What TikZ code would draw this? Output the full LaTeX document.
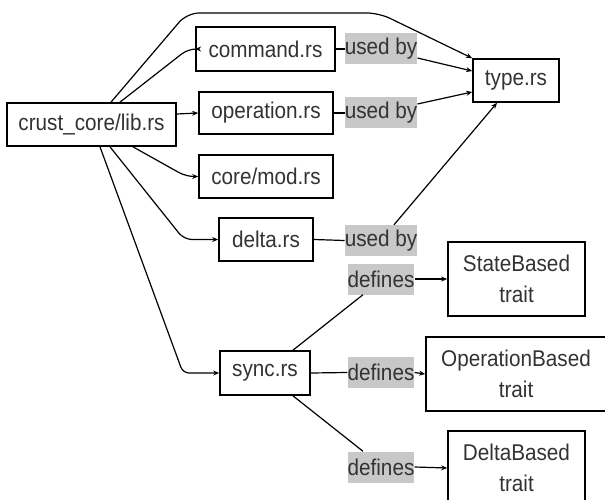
\documentclass[tikz,border=0pt]{standalone}
\usepackage{fontspec}
\setmainfont{Liberation Sans}
\usetikzlibrary{arrows.meta}
\definecolor{txt}{HTML}{333333}
\definecolor{tag}{HTML}{C8C8C8}
% slightly tall lettering
\newcommand{\tall}[1]{\scalebox{1}[1.1]{#1}}
\tikzset{
  filebox/.style={draw=black, line width=1.7pt, fill=white, text=txt, inner sep=0pt,
    font=\fontsize{20.7}{31}\selectfont, align=center},
  tagbox/.style={fill=tag, text=txt, inner xsep=0pt, inner ysep=0pt,
    minimum height=31pt, font=\fontsize{20.7}{31}\selectfont},
  link/.style={draw=black, line width=1.2pt},
  arr/.style={link, -{Stealth[length=6pt,width=5pt]}},
}
\begin{document}
\begin{tikzpicture}[x=1pt,y=-1pt]
\useasboundingbox (0,0) rectangle (605,500);
\fill[white] (0,0) rectangle (605,500);

% files
\node[filebox, minimum width=169pt, minimum height=43pt] (lib) at (91.5,124.5) {\tall{crust\_core/lib.rs}};
\node[filebox, minimum width=139pt, minimum height=44pt] (cmd) at (265.5,49) {\tall{command.rs}};
\node[filebox, minimum width=134pt, minimum height=42pt] (op) at (266,113) {\tall{operation.rs}};
\node[filebox, minimum width=134pt, minimum height=43pt] (core) at (266,176.5) {\tall{core/mod.rs}};
\node[filebox, minimum width=94pt, minimum height=43pt] (delta) at (266,239.5) {\tall{delta.rs}};
\node[filebox, minimum width=90pt, minimum height=44pt] (sync) at (265,373) {\tall{sync.rs}};
\node[filebox, minimum width=86pt, minimum height=43pt] (type) at (516,80.5) {\tall{type.rs}};

% traits
\node[filebox, minimum width=137pt, minimum height=74pt] (state) at (516.5,279) {\tall{StateBased}\\\tall{trait}};
\node[filebox, minimum width=180pt, minimum height=74pt] (opb) at (516,374) {\tall{OperationBased}\\\tall{trait}};
\node[filebox, minimum width=137pt, minimum height=74pt] (deltab) at (516.5,468) {\tall{DeltaBased}\\\tall{trait}};

% relation tags
\node[tagbox] (u1) at (381,49) {\tall{used by}};
\node[tagbox] (u2) at (381,113) {\tall{used by}};
\node[tagbox] (u3) at (381,240.5) {\tall{used by}};
\node[tagbox] (d1) at (381,279) {\tall{defines}};
\node[tagbox] (d2) at (381,372.5) {\tall{defines}};
\node[tagbox] (d3) at (381,467) {\tall{defines}};

% lib.rs declares the modules
\draw[arr, rounded corners=12pt] ([xshift=19.5pt]lib.north) -- (187,13) -- (379,13) -- (type.north west);
\draw[arr, rounded corners=8pt] ([xshift=28.5pt]lib.north) -- (188,49) -- (cmd.west);
\draw[arr] ([yshift=10.5pt]lib.east) -- (op.west);
\draw[arr, rounded corners=8pt] ([xshift=41.5pt]lib.south) -- (186,176.5) -- (core.west);
\draw[arr, rounded corners=8pt] ([xshift=18.5pt]lib.south) -- (184,239.5) -- (delta.west);
\draw[arr, rounded corners=6pt] ([xshift=8.5pt]lib.south) -- (183,373) -- (sync.west);

% uses of type.rs
\draw[link] (cmd.east) -- (u1.west);
\draw[arr] ([yshift=-9pt]u1.east) -- ([yshift=9.5pt]type.west);
\draw[link] (op.east) -- (u2.west);
\draw[arr] ([yshift=9pt]u2.east) -- ([yshift=-11.5pt]type.west);
\draw[link] (delta.east) -- (u3.west);
\draw[arr] ([xshift=13pt]u3.north) -- ([xshift=-19pt]type.south);

% traits defined in sync.rs
\draw[link] ([xshift=28pt]sync.north) -- ([xshift=-18pt]d1.south);
\draw[arr] (d1.east) -- (state.west);
\draw[link] (sync.east) -- (d2.west);
\draw[arr] (d2.east) -- (opb.west);
\draw[link] ([xshift=28pt]sync.south) -- ([xshift=-18pt]d3.north);
\draw[arr] (d3.east) -- (deltab.west);
\end{tikzpicture}
\end{document}
